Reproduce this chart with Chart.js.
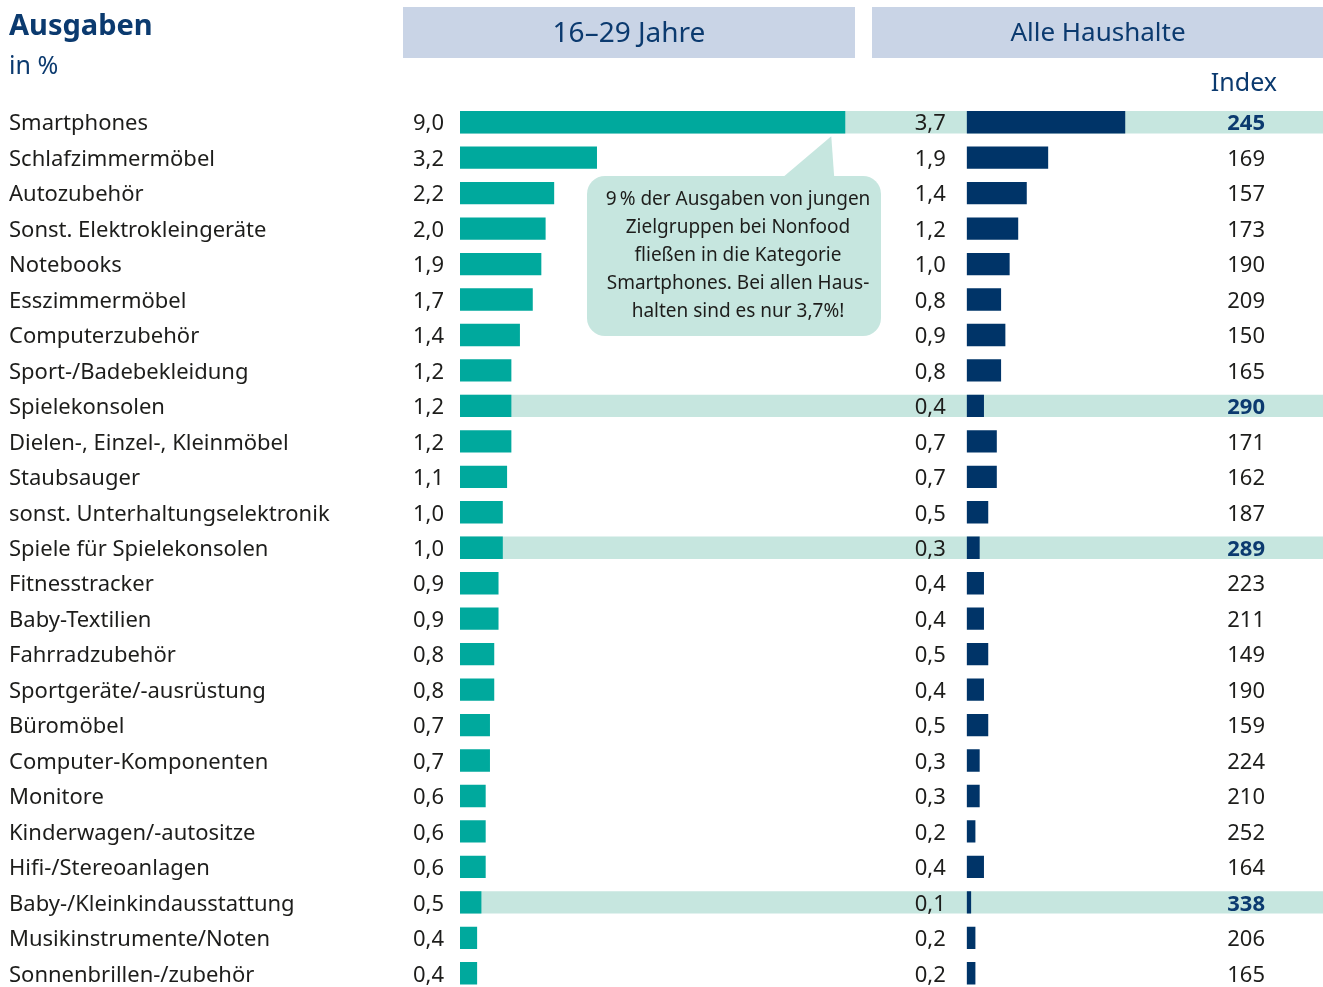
<!DOCTYPE html>
<html>
<head>
<meta charset="utf-8">
<script src="https://cdn.jsdelivr.net/npm/chart.js@4.4.0/dist/chart.umd.min.js"></script>
<style>
html, body { margin: 0; padding: 0; background: #fff; overflow: hidden; }
canvas { display: block; }
</style>
</head>
<body>
<canvas id="chart" width="1323" height="991"></canvas>
<script>
var categories = ["Smartphones", "Schlafzimmermöbel", "Autozubehör", "Sonst. Elektrokleingeräte",
    "Notebooks", "Esszimmermöbel", "Computerzubehör", "Sport-/Badebekleidung", "Spielekonsolen",
    "Dielen-, Einzel-, Kleinmöbel", "Staubsauger", "sonst. Unterhaltungselektronik",
    "Spiele für Spielekonsolen", "Fitnesstracker", "Baby-Textilien", "Fahrradzubehör",
    "Sportgeräte/-ausrüstung", "Büromöbel", "Computer-Komponenten", "Monitore",
    "Kinderwagen/-autositze", "Hifi-/Stereoanlagen", "Baby-/Kleinkindausstattung",
    "Musikinstrumente/Noten", "Sonnenbrillen-/zubehör"];
var young = [9.0, 3.2, 2.2, 2.0, 1.9, 1.7, 1.4, 1.2, 1.2, 1.2, 1.1, 1.0, 1.0, 0.9, 0.9, 0.8, 0.8, 0.7, 0.7, 0.6, 0.6, 0.6, 0.5, 0.4, 0.4];
var allHouseholds = [3.7, 1.9, 1.4, 1.2, 1.0, 0.8, 0.9, 0.8, 0.4, 0.7, 0.7, 0.5, 0.3, 0.4, 0.4, 0.5, 0.4, 0.5, 0.3, 0.3, 0.2, 0.4, 0.1, 0.2, 0.2];
var indexValues = [245, 169, 157, 173, 190, 209, 150, 165, 290, 171, 162, 187, 289, 223, 211, 149, 190, 159, 224, 210, 252, 164, 338, 206, 165];
var highlighted = ["Smartphones", "Spielekonsolen", "Spiele für Spielekonsolen", "Baby-/Kleinkindausstattung"];
var panelTitles = ["16–29 Jahre", "Alle Haushalte"];
var noteLines = ["9\u202F% der Ausgaben von jungen", "Zielgruppen bei Nonfood",
    "fließen in die Kategorie", "Smartphones. Bei allen Haus-", "halten sind es nur 3,7%!"];

var RIGHT_START = 11.84;   // x value where the "Alle Haushalte" bars begin
var X_MAX = 20.16;

var DARK_BLUE = "#0b3a6f";
var TEXT = "#1d1d1b";
var BAND = "#c6e6df";
var FONT = "'Noto Sans', sans-serif";

var fmt = function (v) {
    return v.toFixed(1).replace(".", ",");
};

var isHi = function (i) {
    return highlighted.indexOf(categories[i]) !== -1;
};

var roundRect = function (ctx, x, y, w, h, r) {
    ctx.beginPath();
    ctx.moveTo(x + r, y);
    ctx.arcTo(x + w, y, x + w, y + h, r);
    ctx.arcTo(x + w, y + h, x, y + h, r);
    ctx.arcTo(x, y + h, x, y, r);
    ctx.arcTo(x, y, x + w, y, r);
    ctx.closePath();
};

var decorations = {
    id: "decorations",
    afterDatasetsDraw: function (chart) {
        var ctx = chart.ctx;
        var xs = chart.scales.x;
        var ys = chart.scales.y;
        var right = chart.chartArea.right;
        ctx.save();

        // title
        ctx.fillStyle = DARK_BLUE;
        ctx.textAlign = "left";
        ctx.textBaseline = "alphabetic";
        ctx.font = "bold 29px " + FONT;
        ctx.fillText("Ausgaben", 9, 35);
        ctx.font = "25px " + FONT;
        ctx.fillText("in %", 9, 74);

        // panel headers
        ctx.fillStyle = "#c9d4e6";
        ctx.fillRect(403, 7, 452, 51);
        ctx.fillRect(872, 7, right - 872, 51);
        ctx.fillStyle = DARK_BLUE;
        ctx.textAlign = "center";
        ctx.textBaseline = "middle";
        ctx.font = "28px " + FONT;
        ctx.fillText(panelTitles[0], 629, 34);
        ctx.font = "26px " + FONT;
        ctx.fillText(panelTitles[1], 1098, 34);
        ctx.font = "25px " + FONT;
        ctx.textAlign = "right";
        ctx.fillText("Index", 1277, 84);

        // values and index
        var x0 = xs.getPixelForValue(0);
        var x1 = xs.getPixelForValue(RIGHT_START);
        categories.forEach(function (c, i) {
            var y = ys.getPixelForValue(i) + 2;
            ctx.textAlign = "right";
            ctx.fillStyle = TEXT;
            ctx.font = "22px " + FONT;
            ctx.fillText(fmt(young[i]), x0 - 16, y);
            ctx.fillText(fmt(allHouseholds[i]), x1 - 21, y);
            if (isHi(i)) {
                ctx.font = "bold 22px " + FONT;
                ctx.fillStyle = DARK_BLUE;
            }
            ctx.fillText(String(indexValues[i]), right - 58, y);
        });

        // callout
        var tipX = xs.getPixelForValue(young[0]) - 14;
        var tipY = ys.getPixelForValue(0) + 14;
        ctx.fillStyle = BAND;
        roundRect(ctx, 587, 176, 294, 160, 18);
        ctx.fill();
        ctx.beginPath();
        ctx.moveTo(782, 178);
        ctx.lineTo(tipX, tipY);
        ctx.lineTo(tipX + 3, 178);
        ctx.closePath();
        ctx.fill();
        ctx.fillStyle = TEXT;
        ctx.textAlign = "center";
        ctx.font = "19px " + FONT;
        noteLines.forEach(function (line, k) {
            ctx.fillText(line, 738, 200 + k * 28);
        });
        ctx.restore();
    }
};

var barOpts = { grouped: false, barPercentage: 0.63, categoryPercentage: 1, borderWidth: 0 };

new Chart(document.getElementById("chart"), {
    type: "bar",
    data: {
        labels: categories,
        datasets: [
            Object.assign({
                label: "band",
                data: categories.map(function (c, i) { return isHi(i) ? [0, X_MAX] : null; }),
                backgroundColor: BAND,
                order: 3
            }, barOpts),
            Object.assign({
                label: panelTitles[0],
                data: young.map(function (v) { return [0, v]; }),
                backgroundColor: "#00a99d",
                order: 1
            }, barOpts),
            Object.assign({
                label: panelTitles[1],
                data: allHouseholds.map(function (v) { return [RIGHT_START, RIGHT_START + v]; }),
                backgroundColor: "#003468",
                order: 1
            }, barOpts)
        ]
    },
    options: {
        indexAxis: "y",
        responsive: false,
        animation: false,
        layout: { padding: { left: 9, right: 0, top: 104.5, bottom: 0 } },
        plugins: { legend: { display: false }, tooltip: { enabled: false } },
        scales: {
            x: { display: false, min: 0, max: X_MAX },
            y: {
                offset: true,
                grid: { display: false },
                border: { display: false },
                ticks: {
                    crossAlign: "far",
                    color: TEXT,
                    font: { family: "'Noto Sans', sans-serif", size: 22 },
                    padding: 0,
                    labelOffset: 2
                },
                afterFit: function (scale) {
                    scale.width = 451;
                    scale.paddingTop = 0;
                    scale.paddingBottom = 0;
                }
            }
        }
    },
    plugins: [decorations]
});
</script>
</body>
</html>
